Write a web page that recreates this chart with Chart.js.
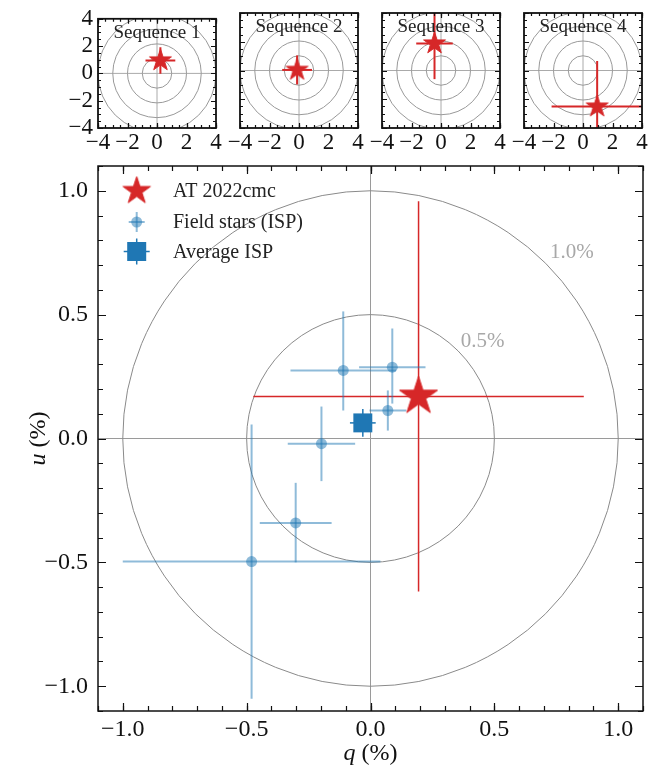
<!DOCTYPE html>
<html><head><meta charset="utf-8">
<script src="https://cdn.jsdelivr.net/npm/chart.js@4/dist/chart.umd.min.js"></script>
<style>
html,body{margin:0;padding:0;background:#fff;}
#wrap{position:relative;width:670px;height:771px;overflow:hidden;background:#fff;}
canvas{position:absolute;top:0;}
</style></head><body>
<div id="wrap">
<canvas id="main" width="670" height="771" style="left:0"></canvas>
<canvas id="s0" width="236" height="160" style="left:0"></canvas>
<canvas id="s1" width="236" height="160" style="left:142px"></canvas>
<canvas id="s2" width="236" height="160" style="left:284px"></canvas>
<canvas id="s3" width="236" height="160" style="left:426px"></canvas>
</div>
<script>
// ---------------- data ----------------
const FIELD_Q        = [-0.110, 0.088, 0.070, -0.198, -0.302, -0.480];
const FIELD_U        = [ 0.275, 0.288, 0.113, -0.021, -0.341, -0.497];
const FIELD_QERR     = [ 0.213, 0.134, 0.074,  0.136,  0.145,  0.520];
const FIELD_UERR_UP  = [ 0.238, 0.156, 0.081,  0.150,  0.162,  0.554];
const FIELD_UERR_DN  = [ 0.162, 0.147, 0.081,  0.151,  0.159,  0.554];

const TARGET_Q    = [0.194];
const TARGET_U    = [0.170];
const TARGET_QERR = [0.667];
const TARGET_UERR = [0.788];

const ISP_Q    = [-0.031];
const ISP_U    = [0.063];
const ISP_QERR = [0.052];
const ISP_UERR = [0.056];

const SEQ_NAMES = ['Sequence 1', 'Sequence 2', 'Sequence 3', 'Sequence 4'];
const SEQ_Q     = [0.23, -0.13, -0.44, 0.96];
const SEQ_U     = [0.95,  0.04,  1.88, -2.51];
const SEQ_QERR  = [1.01,  1.01,  1.24,  3.09];
const SEQ_UERR  = [0.97,  1.01,  2.48,  3.17];

const MAIN_TICKS  = [-1.0, -0.5, 0.0, 0.5, 1.0];
const INSET_TICKS = [-4, -2, 0, 2, 4];
const RING_RADII  = [0.5, 1.0];
const RING_LABELS = ['0.5%', '1.0%'];
const INSET_RINGS = [1, 2, 3, 4];
const LEGEND_LABELS = ['AT 2022cmc', 'Field stars (ISP)', 'Average ISP'];
const X_TITLE = ['q', ' (%)'];
const Y_TITLE = ['u', ' (%)'];

// ---------------- style ----------------
const FONT = "'Liberation Serif', 'DejaVu Serif', serif";
const RED = '#d62728';
const BLUE = '#1f77b4';
const BLUE_A = 'rgba(31,119,180,0.5)';
const MINUS = '\u2212';

function makeStar(R, color){
  const c = document.createElement('canvas');
  const s = Math.ceil(2*R+2);
  c.width = s; c.height = s;
  const g = c.getContext('2d');
  const r = R*0.381966;
  g.beginPath();
  for(let k=0;k<10;k++){
    const rad = k%2===0 ? R : r;
    const ang = -Math.PI/2 + k*Math.PI/5;
    const px = s/2 + rad*Math.cos(ang), py = s/2 + rad*Math.sin(ang);
    k===0 ? g.moveTo(px,py) : g.lineTo(px,py);
  }
  g.closePath();
  g.fillStyle = color; g.fill();
  g.strokeStyle = color; g.lineWidth = 1; g.stroke();
  return c;
}
const STAR_MAIN = makeStar(20, RED);
const STAR_LEG  = makeStar(14.5, RED);
const STAR_INSET= makeStar(11.5, RED);

const fmtMain = v => (v < 0 ? MINUS : '') + Math.abs(v).toFixed(1);
const fmtInt  = v => (v < 0 ? MINUS : '') + Math.abs(v).toFixed(0);

// ---------------- plugins ----------------
const errorBars = {
  id: 'errorBars',
  beforeDatasetDraw(chart, args){
    const ds = chart.data.datasets[args.index];
    const e = ds.err;
    if(!e) return;
    const {ctx, chartArea:a, scales:{x, y}} = chart;
    ctx.save();
    ctx.beginPath(); ctx.rect(a.left, a.top, a.right-a.left, a.bottom-a.top); ctx.clip();
    ctx.strokeStyle = e.color; ctx.lineWidth = e.width; ctx.lineCap = 'butt';
    ds.data.forEach((p, i) => {
      const px = x.getPixelForValue(p.x), py = y.getPixelForValue(p.y);
      ctx.beginPath();
      ctx.moveTo(x.getPixelForValue(p.x - e.xm[i]), py);
      ctx.lineTo(x.getPixelForValue(p.x + e.xp[i]), py);
      ctx.stroke();
      ctx.beginPath();
      ctx.moveTo(px, y.getPixelForValue(p.y - e.ym[i]));
      ctx.lineTo(px, y.getPixelForValue(p.y + e.yp[i]));
      ctx.stroke();
    });
    ctx.restore();
  }
};

const decor = {
  id: 'decor',
  beforeDatasetsDraw(chart, args, o){
    const {ctx, chartArea:a, scales:{x, y}} = chart;
    ctx.save();
    ctx.beginPath(); ctx.rect(a.left, a.top, a.right-a.left, a.bottom-a.top); ctx.clip();
    const cx = x.getPixelForValue(0), cy = y.getPixelForValue(0);
    ctx.strokeStyle = o.crossColor; ctx.lineWidth = o.crossWidth;
    ctx.beginPath(); ctx.moveTo(a.left, cy); ctx.lineTo(a.right, cy); ctx.stroke();
    ctx.beginPath(); ctx.moveTo(cx, a.top); ctx.lineTo(cx, a.bottom); ctx.stroke();
    ctx.strokeStyle = o.ringColor; ctx.lineWidth = o.ringWidth;
    o.rings.forEach(r => {
      const rp = x.getPixelForValue(r) - cx;
      ctx.beginPath(); ctx.arc(cx, cy, rp, 0, Math.PI*2); ctx.stroke();
    });
    if(o.ringLabels){
      ctx.fillStyle = '#a8a8a8';
      ctx.font = '21px ' + FONT;
      ctx.textAlign = 'center'; ctx.textBaseline = 'middle';
      o.ringLabels.forEach((t, i) => {
        const pos = o.ringLabelPos[i];
        ctx.fillText(t, x.getPixelForValue(pos[0]), y.getPixelForValue(pos[1]));
      });
    }
    ctx.restore();
  },
  afterDraw(chart, args, o){
    const {ctx, chartArea:a, scales:{x, y}} = chart;
    ctx.save();
    ctx.strokeStyle = '#111'; ctx.lineWidth = o.tickWidth;
    const tick = (vals, len, axis) => {
      vals.forEach(v => {
        if(axis === 'x'){
          const p = Math.round(x.getPixelForValue(v)) + 0.5;
          ctx.beginPath();
          ctx.moveTo(p, a.bottom); ctx.lineTo(p, a.bottom - len);
          ctx.moveTo(p, a.top); ctx.lineTo(p, a.top + len);
          ctx.stroke();
        } else {
          const p = Math.round(y.getPixelForValue(v)) + 0.5;
          ctx.beginPath();
          ctx.moveTo(a.left, p); ctx.lineTo(a.left + len, p);
          ctx.moveTo(a.right, p); ctx.lineTo(a.right - len, p);
          ctx.stroke();
        }
      });
    };
    const minors = [];
    for(let v = o.minorFrom; v <= o.minorTo + 1e-9; v += o.minorStep) minors.push(+v.toFixed(6));
    tick(minors, o.minorLen, 'x'); tick(minors, o.minorLen, 'y');
    tick(o.majors, o.majorLen, 'x'); tick(o.majors, o.majorLen, 'y');
    ctx.lineWidth = o.frameWidth; ctx.strokeStyle = '#111';
    ctx.strokeRect(a.left, a.top, a.right - a.left, a.bottom - a.top);
    if(o.title){
      ctx.fillStyle = '#222'; ctx.font = '19px ' + FONT;
      ctx.textAlign = 'center'; ctx.textBaseline = 'middle';
      ctx.fillText(o.title, (a.left + a.right)/2, a.top + 14);
    }
    ctx.restore();
  }
};

const mainExtras = {
  id: 'mainExtras',
  afterDraw(chart){
    const {ctx, chartArea:a} = chart;
    ctx.save();
    ctx.fillStyle = '#111';
    const drawMixed = (parts, cx, cy) => {
      ctx.font = 'italic 24px ' + FONT;
      const w0 = ctx.measureText(parts[0]).width;
      ctx.font = '24px ' + FONT;
      const w1 = ctx.measureText(parts[1]).width;
      let sx = cx - (w0 + w1)/2;
      ctx.textAlign = 'left'; ctx.textBaseline = 'middle';
      ctx.font = 'italic 24px ' + FONT; ctx.fillText(parts[0], sx, cy);
      ctx.font = '24px ' + FONT; ctx.fillText(parts[1], sx + w0, cy);
    };
    drawMixed(X_TITLE, (a.left + a.right)/2, 754);
    ctx.save();
    ctx.translate(39, (a.top + a.bottom)/2);
    ctx.rotate(-Math.PI/2);
    drawMixed(Y_TITLE, 0, 0);
    ctx.restore();

    const lx = 136.7, tx = 173, ys = [191, 222, 251.5];
    ctx.drawImage(STAR_LEG, lx - STAR_LEG.width/2, ys[0] - STAR_LEG.height/2);
    ctx.strokeStyle = BLUE_A; ctx.lineWidth = 2;
    ctx.beginPath(); ctx.moveTo(lx - 8, ys[1]); ctx.lineTo(lx + 8, ys[1]); ctx.stroke();
    ctx.beginPath(); ctx.moveTo(lx, ys[1] - 10); ctx.lineTo(lx, ys[1] + 10); ctx.stroke();
    ctx.fillStyle = BLUE_A;
    ctx.beginPath(); ctx.arc(lx, ys[1], 5.5, 0, Math.PI*2); ctx.fill();
    ctx.strokeStyle = BLUE; ctx.lineWidth = 1.5;
    ctx.beginPath(); ctx.moveTo(lx - 13, ys[2]); ctx.lineTo(lx + 13, ys[2]); ctx.stroke();
    ctx.beginPath(); ctx.moveTo(lx, ys[2] - 13); ctx.lineTo(lx, ys[2] + 13); ctx.stroke();
    ctx.fillStyle = BLUE; ctx.fillRect(lx - 9.5, ys[2] - 9.5, 19, 19);
    ctx.fillStyle = '#222'; ctx.font = '20px ' + FONT;
    ctx.textAlign = 'left'; ctx.textBaseline = 'middle';
    LEGEND_LABELS.forEach((t, i) => ctx.fillText(t, tx, ys[i] + 1));
    ctx.restore();
  }
};

// ---------------- main chart ----------------
const toPts = (qs, us) => qs.map((q, i) => ({x: q, y: us[i]}));

new Chart(document.getElementById('main'), {
  type: 'scatter',
  data: {
    datasets: [
      {
        label: LEGEND_LABELS[1],
        data: toPts(FIELD_Q, FIELD_U),
        backgroundColor: BLUE_A, borderWidth: 0, pointRadius: 5.5,
        err: {xm: FIELD_QERR, xp: FIELD_QERR, ym: FIELD_UERR_DN, yp: FIELD_UERR_UP, color: BLUE_A, width: 2}
      },
      {
        label: LEGEND_LABELS[0],
        data: toPts(TARGET_Q, TARGET_U),
        pointStyle: STAR_MAIN, pointRadius: 20,
        err: {xm: TARGET_QERR, xp: TARGET_QERR, ym: TARGET_UERR, yp: TARGET_UERR, color: RED, width: 1.5}
      },
      {
        label: LEGEND_LABELS[2],
        data: toPts(ISP_Q, ISP_U),
        pointStyle: 'rect', pointRadius: 13.4, backgroundColor: BLUE, borderWidth: 0,
        err: {xm: ISP_QERR, xp: ISP_QERR, ym: ISP_UERR, yp: ISP_UERR, color: BLUE, width: 1.5}
      }
    ]
  },
  options: {
    responsive: false, animation: false, devicePixelRatio: 1,
    layout: {padding: {top: 166, right: 27, left: 0, bottom: 0}},
    plugins: {
      legend: {display: false}, tooltip: {enabled: false},
      decor: {
        rings: RING_RADII, ringColor: '#8a8a8a', ringWidth: 1,
        crossColor: '#9a9a9a', crossWidth: 1,
        ringLabels: RING_LABELS, ringLabelPos: [[0.453, 0.39], [0.813, 0.75]],
        majors: MAIN_TICKS, majorLen: 8, minorLen: 5,
        minorFrom: -1.1, minorTo: 1.1, minorStep: 0.1,
        tickWidth: 1.2, frameWidth: 1.5
      }
    },
    scales: {
      x: {
        type: 'linear', min: -1.1, max: 1.1,
        grid: {display: false, drawTicks: false}, border: {display: false},
        ticks: {font: {family: FONT, size: 24}, color: '#111', padding: 4, maxRotation: 0, autoSkip: false, callback: fmtMain},
        afterBuildTicks: s => { s.ticks = MAIN_TICKS.map(v => ({value: v})); },
        afterFit: s => { s.height = 60; }
      },
      y: {
        type: 'linear', min: -1.1, max: 1.1,
        grid: {display: false, drawTicks: false}, border: {display: false},
        ticks: {font: {family: FONT, size: 24}, color: '#111', padding: 10, autoSkip: false, callback: fmtMain},
        afterBuildTicks: s => { s.ticks = MAIN_TICKS.map(v => ({value: v})); },
        afterFit: s => { s.width = 98; }
      }
    }
  },
  plugins: [errorBars, decor, mainExtras]
});

// ---------------- insets ----------------
SEQ_NAMES.forEach((name, i) => {
  new Chart(document.getElementById('s' + i), {
    type: 'scatter',
    data: {
      datasets: [{
        label: name,
        data: [{x: SEQ_Q[i], y: SEQ_U[i]}],
        pointStyle: STAR_INSET, pointRadius: 12,
        err: {xm: [SEQ_QERR[i]], xp: [SEQ_QERR[i]], ym: [SEQ_UERR[i]], yp: [SEQ_UERR[i]], color: RED, width: 2}
      }]
    },
    options: {
      responsive: false, animation: false, devicePixelRatio: 1,
      layout: {padding: {top: 10, right: 20, left: 0, bottom: 0}},
      plugins: {
        legend: {display: false}, tooltip: {enabled: false},
        decor: {
          rings: INSET_RINGS, ringColor: '#999', ringWidth: 1,
          crossColor: '#aaa', crossWidth: 1,
          majors: INSET_TICKS, majorLen: 5, minorLen: 3,
          minorFrom: -4, minorTo: 4, minorStep: 0.5,
          tickWidth: 1.2, frameWidth: 1.8, title: name
        }
      },
      scales: {
        x: {
          type: 'linear', min: -4, max: 4,
          grid: {display: false, drawTicks: false}, border: {display: false},
          ticks: {font: {family: FONT, size: 23}, color: '#111', padding: 1, maxRotation: 0, autoSkip: false, callback: fmtInt},
          afterBuildTicks: s => { s.ticks = INSET_TICKS.map(v => ({value: v})); },
          afterFit: s => { s.height = 32; }
        },
        y: {
          type: 'linear', min: -4, max: 4,
          grid: {display: false, drawTicks: false}, border: {display: false},
          ticks: {display: i === 0, font: {family: FONT, size: 23}, color: '#111', padding: 5, autoSkip: false, callback: fmtInt},
          afterBuildTicks: s => { s.ticks = INSET_TICKS.map(v => ({value: v})); },
          afterFit: s => { s.width = 98; }
        }
      }
    },
    plugins: [errorBars, decor]
  });
});
</script>
</body></html>
